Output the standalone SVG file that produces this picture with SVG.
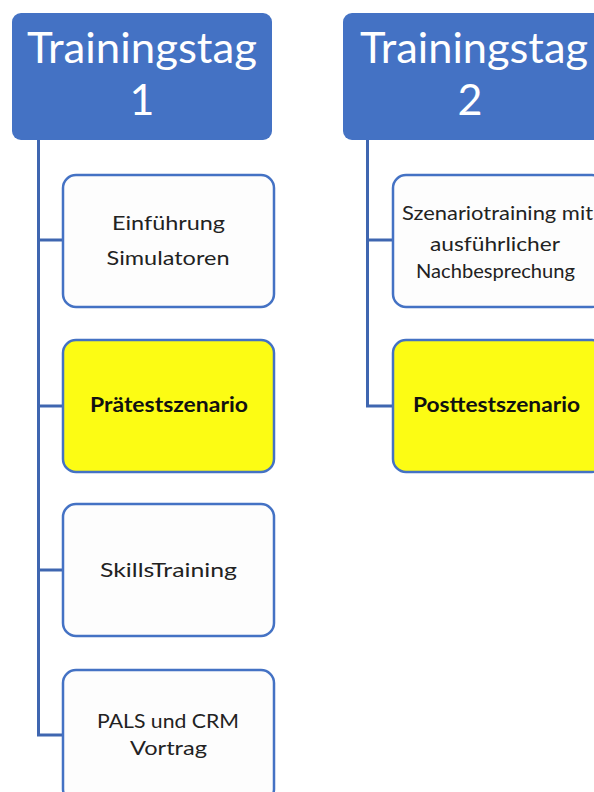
<svg xmlns="http://www.w3.org/2000/svg" width="594" height="792" viewBox="0 0 594 792">
<style>
.hdr{fill:#4472C4;}
.hdrt{font-family:Lato,"Liberation Sans",Arial,sans-serif;font-size:43px;fill:#ffffff;text-anchor:middle;}
.box{fill:#FDFDFD;stroke:#4472C4;stroke-width:2.5;}
.ybox{fill:#FCFC14;stroke:#4472C4;stroke-width:2.5;}
.t{font-family:Lato,"Liberation Sans",Arial,sans-serif;font-size:19px;fill:#222222;text-anchor:middle;}
.tb{font-family:Lato,"Liberation Sans",Arial,sans-serif;font-size:21px;font-weight:bold;fill:#111111;text-anchor:middle;}
.con{fill:none;stroke:#3F66B0;stroke-width:3;}
</style>
<rect width="594" height="792" fill="#ffffff"/>
<g id="connectors">
<path class="con" d="M38.5,140 V735 H63"/>
<path class="con" d="M38.5,240 H63"/>
<path class="con" d="M38.5,406 H63"/>
<path class="con" d="M38.5,570 H63"/>
<path class="con" d="M367.5,140 V406 H393"/>
<path class="con" d="M367.5,240 H393"/>
</g>
<g id="day1">
<rect class="hdr" x="12" y="13" width="260" height="127" rx="9"/>
<text class="hdrt" x="142" y="63" textLength="230" lengthAdjust="spacingAndGlyphs">Trainingstag</text>
<text class="hdrt" x="142" y="115">1</text>
</g>
<g id="day2">
<rect class="hdr" x="343" y="13" width="262" height="127" rx="9"/>
<text class="hdrt" x="474" y="63" textLength="228" lengthAdjust="spacingAndGlyphs">Trainingstag</text>
<text class="hdrt" x="470" y="115">2</text>
</g>
<g id="einfuehrung">
<rect class="box" x="63" y="175" width="211" height="132" rx="13"/>
<text class="t" x="168.5" y="230" textLength="113" lengthAdjust="spacingAndGlyphs">Einführung</text>
<text class="t" x="168" y="265" textLength="123" lengthAdjust="spacingAndGlyphs">Simulatoren</text>
</g>
<g id="praetest">
<rect class="ybox" x="63" y="340" width="211" height="132" rx="13"/>
<text class="tb" x="169" y="412" textLength="158" lengthAdjust="spacingAndGlyphs">Prätestszenario</text>
</g>
<g id="skills">
<rect class="box" x="63" y="504" width="211" height="132" rx="13"/>
<text class="t" x="168.5" y="577" textLength="137" lengthAdjust="spacingAndGlyphs">SkillsTraining</text>
</g>
<g id="pals">
<rect class="box" x="63" y="670" width="211" height="132" rx="13"/>
<text class="t" x="168" y="728" textLength="142" lengthAdjust="spacingAndGlyphs">PALS und CRM</text>
<text class="t" x="168.5" y="755" textLength="77" lengthAdjust="spacingAndGlyphs">Vortrag</text>
</g>
<g id="szenario">
<rect class="box" x="393" y="175" width="212" height="132" rx="13"/>
<text class="t" x="497.5" y="220" textLength="191" lengthAdjust="spacingAndGlyphs">Szenariotraining mit</text>
<text class="t" x="495" y="251" textLength="130" lengthAdjust="spacingAndGlyphs">ausführlicher</text>
<text class="t" x="495.5" y="278" textLength="159" lengthAdjust="spacingAndGlyphs">Nachbesprechung</text>
</g>
<g id="posttest">
<rect class="ybox" x="393" y="340" width="212" height="132" rx="13"/>
<text class="tb" x="496.5" y="412" textLength="167" lengthAdjust="spacingAndGlyphs">Posttestszenario</text>
</g>
</svg>
